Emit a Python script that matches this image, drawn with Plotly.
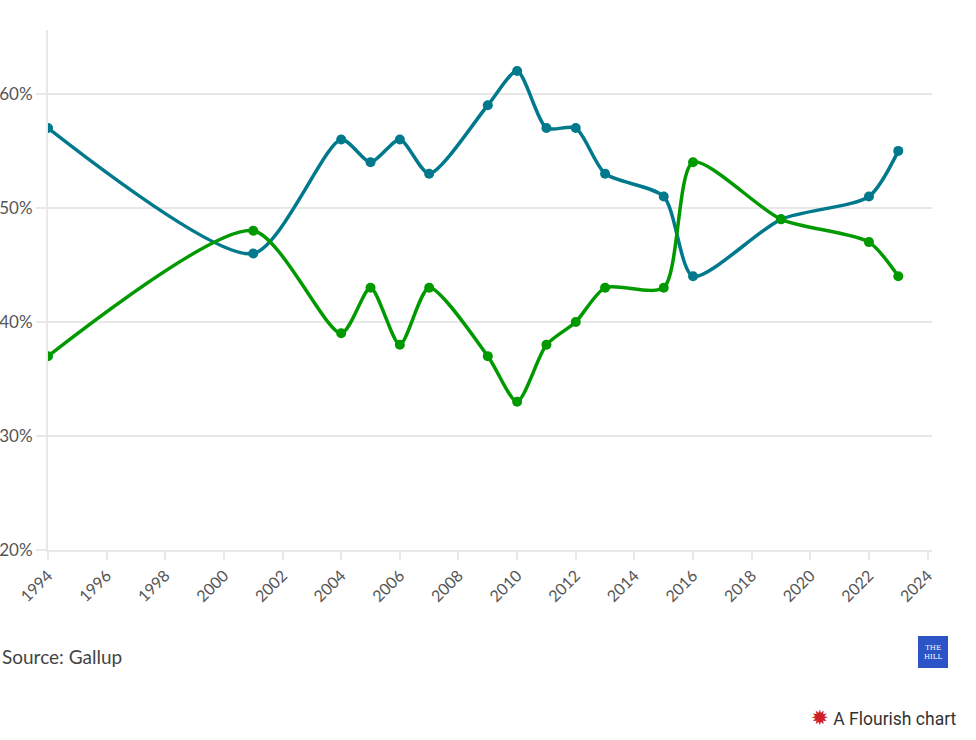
import plotly.graph_objects as go

years = [1994, 2001, 2004, 2005, 2006, 2007, 2009, 2010, 2011, 2012, 2013, 2015, 2016, 2019, 2022, 2023]
blue_vals = [57, 46, 56, 54, 56, 53, 59, 62, 57, 57, 53, 51, 44, 49, 51, 55]
green_vals = [37, 48, 39, 43, 38, 43, 37, 33, 38, 40, 43, 43, 54, 49, 47, 44]
x_ticks = list(range(1994, 2025, 2))
y_ticks = [20, 30, 40, 50, 60]

BLUE = "#00798c"
GREEN = "#009a00"
GRID = "#e8e8e8"
FONT = "Lato"

fig = go.Figure()
fig.add_trace(go.Scatter(x=years, y=blue_vals, mode="lines+markers",
                         line=dict(color=BLUE, width=3.5, shape="spline", smoothing=0.7),
                         marker=dict(color=BLUE, size=10), showlegend=False))
fig.add_trace(go.Scatter(x=years, y=green_vals, mode="lines+markers",
                         line=dict(color=GREEN, width=3.5, shape="spline", smoothing=0.7),
                         marker=dict(color=GREEN, size=10), showlegend=False))

fig.update_layout(
    width=976, height=740,
    margin=dict(l=48, r=44, t=30, b=190),
    paper_bgcolor="white", plot_bgcolor="white",
    font=dict(family=FONT, color="#555555"),
    xaxis=dict(range=[1994, 2024.15], tickvals=x_ticks, ticktext=[str(t) for t in x_ticks],
               tickangle=-45, tickfont=dict(size=16, color="#555555"),
               showgrid=False, showline=True, linecolor=GRID, linewidth=2,
               ticks="outside", ticklen=8, tickcolor=GRID, tickwidth=2, zeroline=False,
               automargin=False),
    yaxis=dict(range=[20, 65.6], tickvals=y_ticks, ticktext=[f"{t}%" for t in y_ticks],
               tickfont=dict(size=17, color="#555555"),
               showgrid=True, gridcolor=GRID, gridwidth=2,
               showline=True, linecolor=GRID, linewidth=2,
               ticks="outside", ticklen=10, tickcolor=GRID, tickwidth=2, zeroline=False,
               automargin=False),
    annotations=[
        dict(text="Source: Gallup", xref="paper", yref="paper", x=-48/884, y=-(656-550)/520,
             xanchor="left", yanchor="middle", showarrow=False,
             font=dict(size=19, color="#444444", family=FONT), xshift=0),
        dict(text="THE<br>HILL", xref="paper", yref="paper", x=(933-48)/884, y=-(652-550)/520,
             xanchor="center", yanchor="middle", showarrow=False,
             font=dict(size=7, color="white", family="DejaVu Serif")),
        dict(text="<span style='color:#d0202a;font-size:21px'>✹</span> A Flourish chart",
             xref="paper", yref="paper",
             x=(959-48)/884, y=-(718-550)/520, xanchor="right", yanchor="middle", showarrow=False,
             font=dict(size=17.5, color="#333333", family="Roboto")),
    ],
    shapes=[
        dict(type="rect", xref="paper", yref="paper", x0=(918-48)/884, x1=(948-48)/884,
             y0=-(636-550)/520, y1=-(668-550)/520, fillcolor="#2b55c7", line=dict(width=0), layer="above"),
    ],
)

fig.write_html("out.html", config={"displayModeBar": False},
               post_script="document.body.style.margin='0';")
